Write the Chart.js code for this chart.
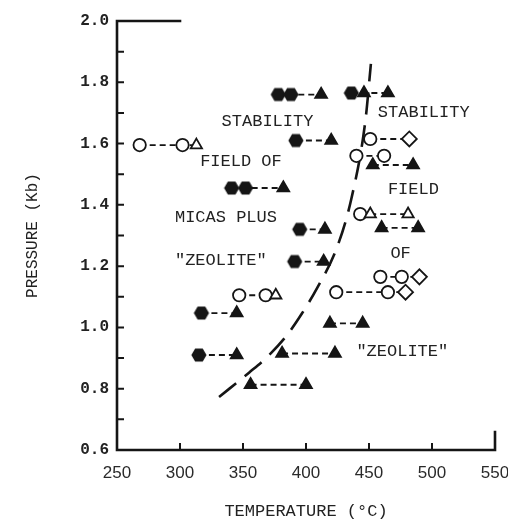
<!DOCTYPE html>
<html><head><meta charset="utf-8">
<script src="https://cdn.jsdelivr.net/npm/chart.js@4"></script>
<style>html,body{margin:0;padding:0;background:#fff}#wrap{width:508px;height:522px;position:relative}</style>
</head><body><div id="wrap"><canvas id="c"></canvas></div>
<script>
// ---- data ----
const xTickValues = [250, 300, 350, 400, 450, 500, 550];
const yTickValues = [0.6, 0.8, 1.0, 1.2, 1.4, 1.6, 1.8, 2.0];
const yMinorTicks = [0.7, 0.9, 1.1, 1.3, 1.5, 1.7, 1.9];

// experimental runs: pressure (Kb), temperatures (°C), observed phase class per point
// A = filled hexagon, B = filled triangle, C = open circle, D = open triangle, E = open diamond
const runPressures = [1.76, 1.765, 1.595, 1.61, 1.615, 1.56, 1.53, 1.455, 1.32, 1.37, 1.325, 1.215, 1.165, 1.105, 1.115, 1.047, 1.013, 0.91, 0.915, 0.813];
const runTemperatures = [
  [378, 388, 412], [436, 446, 465], [268, 302, 313], [392, 420], [451, 482],
  [440, 462], [453, 485], [341, 352, 382], [395, 415], [443, 451, 481],
  [460, 489], [391, 414], [459, 476, 490], [347, 368, 376], [424, 465, 479],
  [317, 345], [419, 445], [315, 345], [381, 423], [356, 400]
];
const runPhases = [
  ['A','A','B'], ['A','B','B'], ['C','C','D'], ['A','B'], ['C','E'],
  ['C','C'], ['B','B'], ['A','A','B'], ['A','B'], ['C','D','D'],
  ['B','B'], ['A','B'], ['C','C','E'], ['C','C','D'], ['C','C','E'],
  ['A','B'], ['B','B'], ['A','B'], ['B','B'], ['B','B']
];

// dashed boundary curve
const curveT = [331, 355, 369, 384, 397, 409, 424.5, 436, 447, 451.5];
const curveP = [0.773, 0.853, 0.903, 0.97, 1.047, 1.13, 1.26, 1.42, 1.67, 1.86];

// field annotations
const annotationTexts = ['STABILITY', 'FIELD OF', 'MICAS PLUS', '"ZEOLITE"', 'STABILITY', 'FIELD', 'OF', '"ZEOLITE"'];
const annotationAt = [[333,1.672],[316,1.54],[296,1.36],[296,1.217],[457,1.70],[465,1.45],[467,1.24],[440,0.92]];

// ---- styles ----
const INK = '#151515';
function makeHex(r){
  const c = document.createElement('canvas');
  const s = Math.ceil(r*2+2); c.width = s; c.height = s;
  const g = c.getContext('2d');
  g.fillStyle = INK; g.beginPath();
  for(let i=0;i<6;i++){ const a = Math.PI/3*i; const px = s/2 + r*Math.cos(a), py = s/2 + r*Math.sin(a);
    if(i===0) g.moveTo(px,py); else g.lineTo(px,py); }
  g.closePath(); g.fill();
  return c;
}
const hexImg = makeHex(7.6);
const phaseStyle = {A: hexImg, B: 'triangle', C: 'circle', D: 'triangle', E: 'rectRot'};
const phaseFill = {A: INK, B: INK, C: '#fff', D: '#fff', E: '#fff'};
const phaseRadius = {A: 7.5, B: 6.8, C: 6.2, D: 6.5, E: 7.5};

const runDatasets = runPressures.map((p, i) => ({
  data: runTemperatures[i].map(t => ({x: t, y: p})),
  showLine: true,
  borderColor: INK, borderWidth: 1.8, borderDash: [6, 4],
  pointStyle: runPhases[i].map(k => phaseStyle[k]),
  pointRadius: runPhases[i].map(k => phaseRadius[k]),
  pointBackgroundColor: runPhases[i].map(k => phaseFill[k]),
  pointBorderColor: INK, pointBorderWidth: 1.8,
  order: 1
}));

const curveDataset = {
  data: curveT.map((t, i) => ({x: t, y: curveP[i]})),
  showLine: true, borderColor: INK, borderWidth: 2.6, borderDash: [22, 11],
  cubicInterpolationMode: 'monotone', pointRadius: 0, order: 5
};

const framePlugin = {
  id: 'frame',
  beforeDatasetsDraw(chart){
    const {ctx, chartArea: {left, right, top, bottom}, scales: {x, y}} = chart;
    ctx.save();
    ctx.strokeStyle = INK; ctx.lineWidth = 2.6; ctx.lineCap = 'square';
    ctx.beginPath();
    ctx.moveTo(x.getPixelForValue(300), top);
    ctx.lineTo(left, top); ctx.lineTo(left, bottom); ctx.lineTo(right, bottom);
    ctx.lineTo(right, bottom - 18);
    ctx.stroke();
    ctx.lineWidth = 2;
    ctx.beginPath();
    yTickValues.concat(yMinorTicks).forEach(v => {
      const py = y.getPixelForValue(v);
      ctx.moveTo(left, py); ctx.lineTo(left + 6, py);
    });
    xTickValues.slice(1, -1).forEach(v => {
      const px = x.getPixelForValue(v);
      ctx.moveTo(px, bottom); ctx.lineTo(px, bottom - 6);
    });
    ctx.stroke();
    ctx.restore();
  },
  afterDatasetsDraw(chart){
    const {ctx, scales: {x, y}} = chart;
    ctx.save();
    ctx.fillStyle = '#222';
    ctx.font = '17px "Liberation Mono", "DejaVu Sans Mono", monospace';
    ctx.textAlign = 'left'; ctx.textBaseline = 'middle';
    annotationTexts.forEach((t, i) => {
      ctx.fillText(t, x.getPixelForValue(annotationAt[i][0]), y.getPixelForValue(annotationAt[i][1]));
    });
    ctx.restore();
  }
};

new Chart(document.getElementById('c'), {
  type: 'scatter',
  data: {datasets: [...runDatasets, curveDataset]},
  plugins: [framePlugin],
  options: {
    responsive: true, maintainAspectRatio: false, animation: false,
    layout: {padding: {left: 0, right: 0, top: 21, bottom: 0}},
    plugins: {legend: {display: false}, tooltip: {enabled: false}},
    scales: {
      x: {
        type: 'linear', min: 250, max: 550,
        afterBuildTicks: s => { s.ticks = xTickValues.map(v => ({value: v})); },
        ticks: {font: {family: 'Liberation Sans', size: 17}, color: '#2a2a2a', padding: 13, maxRotation: 0, autoSkip: false},
        grid: {display: false, drawTicks: false}, border: {display: false},
        title: {display: true, text: 'TEMPERATURE (°C)', font: {family: 'Liberation Mono', size: 17}, color: '#222', padding: {top: 0, bottom: 0}},
        afterFit: s => { s.height = 72; s.paddingRight = 13; s.paddingLeft = 0; }
      },
      y: {
        type: 'linear', min: 0.6, max: 2.0,
        afterBuildTicks: s => { s.ticks = yTickValues.map(v => ({value: v})); },
        ticks: {font: {family: 'Liberation Mono', size: 16, weight: 'bold'}, color: '#222', padding: 8, callback: v => Number(v).toFixed(1)},
        grid: {display: false, drawTicks: false}, border: {display: false},
        title: {display: true, text: 'PRESSURE (Kb)', font: {family: 'Liberation Mono', size: 16}, color: '#222', padding: {top: 23, bottom: 0}},
        afterFit: s => { s.width = 117; }
      }
    }
  }
});
</script></body></html>
